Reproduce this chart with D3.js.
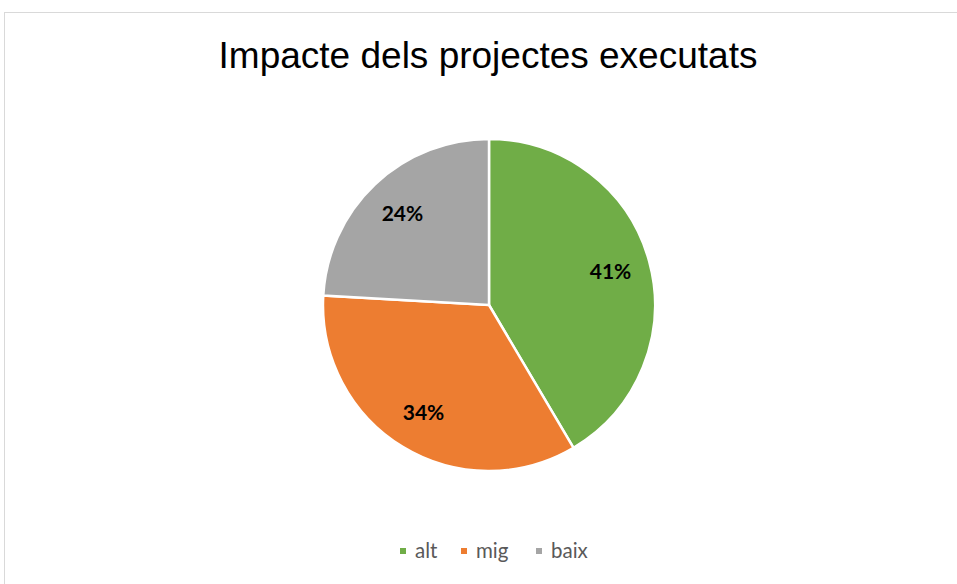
<!DOCTYPE html>
<meta charset="utf-8">
<style>
body { margin: 0; background: #fff; }
.title { font-family: "Liberation Sans", Arial, sans-serif; font-size: 37px; fill: #000; }
.label { font-family: Lato, "Open Sans", sans-serif; font-weight: bold; font-size: 21px; fill: #000; }
.legend text { font-family: Lato, "Open Sans", sans-serif; font-size: 20.5px; fill: #595959; }
</style>
<svg width="957" height="584"></svg>
<script src="https://d3js.org/d3.v7.min.js"></script>
<script>

var categories = ["alt", "mig", "baix"];
var values = [41.5, 34.4, 24.1];
var labels = ["41%", "34%", "24%"];
var colors = ["#70ad47", "#ed7d31", "#a5a5a5"];

var svg = d3.select("svg"),
    cx = 489, cy = 305, radius = 166;

// chart frame
svg.append("rect")
    .attr("x", 4.5).attr("y", 12.5)
    .attr("width", 1000).attr("height", 1000)
    .attr("fill", "#fff")
    .attr("stroke", "#d9d9d9");

svg.append("text")
    .attr("class", "title")
    .attr("x", 488).attr("y", 68)
    .attr("text-anchor", "middle")
    .text("Impacte dels projectes executats");

var color = d3.scaleOrdinal().domain(categories).range(colors);

var pie = d3.pie().sort(null).value(function(d) { return d.value; });
var data = categories.map(function(c, i) { return {cat: c, value: values[i], label: labels[i]}; });

var arc = d3.arc().innerRadius(0).outerRadius(radius);
var labelArc = d3.arc().innerRadius(126).outerRadius(126);

var g = svg.append("g").attr("transform", "translate(" + cx + "," + cy + ")");

var slices = g.selectAll(".slice")
    .data(pie(data))
    .enter().append("g")
      .attr("class", "slice");

slices.append("path")
    .attr("d", arc)
    .attr("fill", function(d) { return color(d.data.cat); })
    .attr("stroke", "#fff")
    .attr("stroke-width", 2.5);

slices.append("text")
    .attr("class", "label")
    .attr("transform", function(d) { return "translate(" + labelArc.centroid(d) + ")"; })
    .attr("text-anchor", "middle")
    .attr("dy", "0.35em")
    .text(function(d) { return d.data.label; });

// legend
var legendX = [400, 461, 536];
var legend = svg.append("g").attr("class", "legend");
var item = legend.selectAll("g")
    .data(categories)
    .enter().append("g")
      .attr("transform", function(d, i) { return "translate(" + legendX[i] + ",551)"; });

item.append("rect")
    .attr("x", 0).attr("y", -3)
    .attr("width", 6).attr("height", 6)
    .attr("fill", function(d) { return color(d); });

item.append("text")
    .attr("x", 15)
    .attr("dy", "0.35em")
    .text(function(d) { return d; });

</script>
